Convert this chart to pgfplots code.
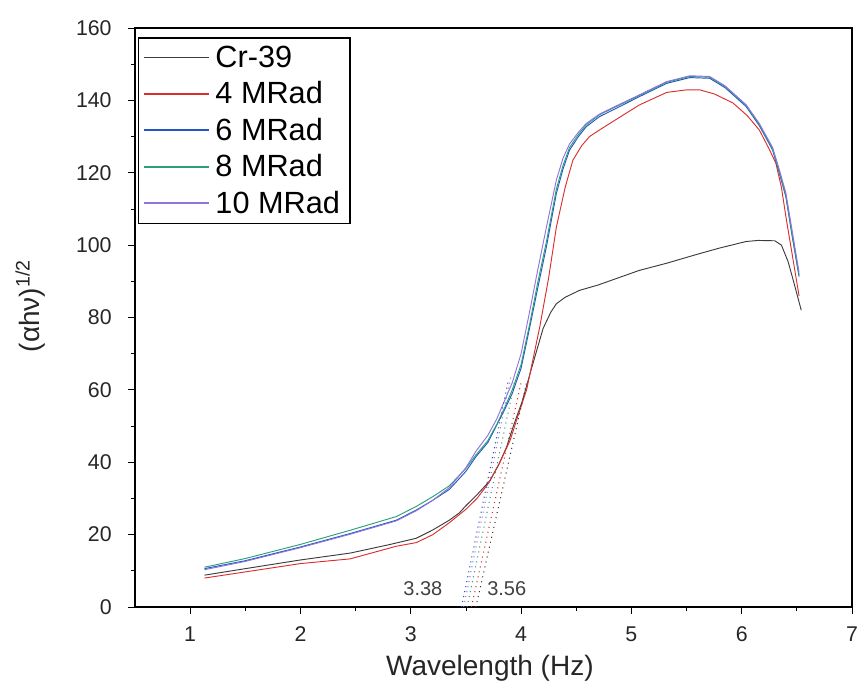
\documentclass[border=0pt]{standalone}
\usepackage{fontspec}
\setmainfont{Liberation Sans}
\usepackage{pgfplots}
\pgfplotsset{compat=1.18}
\usetikzlibrary{calc}

\definecolor{crgray}{RGB}{60,60,60}
\definecolor{mred}{RGB}{220,45,45}
\definecolor{mblue}{RGB}{35,85,195}
\definecolor{mgreen}{RGB}{40,160,120}
\definecolor{mpurple}{RGB}{145,115,220}

\begin{document}
\begin{tikzpicture}
\begin{axis}[
  scale only axis, width=537.75pt, height=434.25pt,
  xmin=0.5, xmax=7, ymin=0, ymax=160,
  xtick={1,...,7}, ytick={0,20,...,160},
  minor x tick num=1, minor y tick num=1,
  tick pos=left, tick align=outside,
  major tick length=5pt, minor tick length=3pt,
  tick style={black, line width=0.6pt},
  axis line style={line width=0.8pt},
  ticklabel style={font=\fontsize{16}{19}\selectfont, text=black!85},
  xticklabel style={yshift=-6pt},
  yticklabel style={xshift=-9pt},
  /pgf/number format/assume math mode=true,
  xlabel={Wavelength (Hz)},
  ylabel={(αhν)\textsuperscript{1/2}},
  label style={font=\fontsize{21}{25}\selectfont, text=black!85},
  xlabel style={at={(axis description cs:0.495,-0.105)}, anchor=center},
  ylabel style={at={(axis description cs:-0.146,0.52)}, anchor=center},
  legend style={at={(axis description cs:0.004,0.984)}, anchor=north west,
    draw=black, line width=1pt, font=\fontsize{23}{26}\selectfont,
    row sep=9.2pt, inner xsep=3.5pt, inner ysep=6pt,
    nodes={inner xsep=4pt, inner ysep=0pt}},
  legend image code/.code={\draw[#1, line width=1.2pt] (0pt,0pt) -- (49pt,0pt);},
  legend cell align=left,
  every axis plot/.append style={line width=0.7pt},
]
% Cr-39
\addplot[draw=crgray] coordinates {
(1.13,8.8) (1.5,10.6) (2.0,13.0) (2.45,14.9) (2.8,17.2) (3.05,19.0) (3.2,21.3)
(3.35,24.0) (3.44,26.0) (3.5,28.0) (3.6,31.0) (3.72,35.0) (3.8,39.5) (3.87,44.3)
(3.93,50.0) (4.01,56.8) (4.1,66.5) (4.2,77.0) (4.27,81.5) (4.32,83.8) (4.4,85.6)
(4.53,87.5) (4.7,89.0) (5.07,93.0) (5.32,95.0) (5.6,97.5) (5.8,99.2) (6.04,101.0)
(6.15,101.3) (6.3,101.2) (6.36,100.0) (6.42,95.5) (6.47,90.0) (6.54,82.0)
};
\addlegendentry{Cr-39}
% 4 MRad
\addplot[draw=mred] coordinates {
(1.13,8.0) (1.5,9.7) (2.0,12.0) (2.45,13.3) (2.87,16.8) (3.05,17.8) (3.2,20.0)
(3.35,23.3) (3.5,27.0) (3.6,30.0) (3.7,34.0) (3.8,39.5) (3.9,46.0) (3.96,51.7)
(4.05,60.0) (4.17,77.5) (4.25,91.0) (4.32,105.0) (4.4,116.0) (4.47,123.5)
(4.55,127.5) (4.62,130.0) (4.71,131.8) (4.85,134.5) (5.07,138.7) (5.32,142.2)
(5.5,142.9) (5.62,142.9) (5.75,141.8) (5.92,139.3) (6.05,135.8) (6.16,131.8)
(6.25,126.5) (6.31,122.6) (6.36,116.0) (6.40,108.0) (6.46,97.0) (6.52,86.0)
};
\addlegendentry{4 MRad}
% 6 MRad
\addplot[draw=mblue] coordinates {
(1.13,10.6) (1.5,12.8) (2.0,16.6) (2.45,20.3) (2.87,24.0) (3.05,26.8) (3.2,29.5)
(3.35,32.5) (3.5,37.5) (3.59,41.5) (3.7,45.5) (3.78,50.3) (3.85,54.5) (3.92,59.0)
(4.0,66.0) (4.08,77.5) (4.15,88.0) (4.23,99.6) (4.32,114.3) (4.38,121.0)
(4.44,126.3) (4.52,130.0) (4.59,132.7) (4.71,135.5) (4.83,137.3) (5.07,141.0)
(5.32,144.7) (5.53,146.3) (5.71,146.1) (5.85,143.5) (6.04,138.3) (6.16,133.0)
(6.28,126.3) (6.34,120.0) (6.40,113.4) (6.46,102.0) (6.52,91.3)
};
\addlegendentry{6 MRad}
% 8 MRad
\addplot[draw=mgreen] coordinates {
(1.13,11.0) (1.5,13.4) (2.0,17.3) (2.45,21.2) (2.87,25.0) (3.05,27.8) (3.2,30.5)
(3.35,33.5) (3.5,38.3) (3.59,42.0) (3.7,46.0) (3.78,50.5) (3.85,55.0) (3.92,60.0)
(4.0,67.0) (4.08,78.5) (4.15,89.5) (4.23,101.0) (4.32,115.5) (4.38,122.0)
(4.44,127.0) (4.52,130.6) (4.59,133.2) (4.71,136.0) (4.83,137.8) (5.07,141.3)
(5.32,145.0) (5.53,146.6) (5.71,146.4) (5.85,143.8) (6.04,138.6) (6.16,133.3)
(6.28,126.6) (6.34,120.3) (6.40,113.8) (6.46,102.5) (6.52,91.8)
};
\addlegendentry{8 MRad}
% 10 MRad
\addplot[draw=mpurple] coordinates {
(1.13,10.3) (1.5,12.6) (2.0,16.4) (2.45,20.1) (2.87,23.8) (3.05,26.6) (3.2,29.5)
(3.35,33.0) (3.5,38.5) (3.59,43.0) (3.7,47.5) (3.78,52.0) (3.85,57.0) (3.92,62.0)
(4.0,70.0) (4.08,82.0) (4.15,93.0) (4.23,105.0) (4.32,118.0) (4.38,124.0)
(4.44,128.0) (4.52,131.2) (4.59,133.6) (4.71,136.2) (4.83,138.0) (5.07,141.5)
(5.32,145.2) (5.53,146.8) (5.71,146.6) (5.85,144.0) (6.04,138.8) (6.16,133.6)
(6.28,127.0) (6.34,121.0) (6.40,114.5) (6.46,103.5) (6.52,92.5)
};
\addlegendentry{10 MRad}
% tangent lines
\addplot[draw=mblue, line width=0.8pt, dash pattern=on 0.8pt off 3pt, forget plot] coordinates {(3.46,0) (3.88,62)};
\addplot[draw=mpurple, line width=0.8pt, dash pattern=on 0.8pt off 3pt, forget plot] coordinates {(3.48,0) (3.91,64)};
\addplot[draw=mgreen, line width=0.8pt, dash pattern=on 0.8pt off 3pt, forget plot] coordinates {(3.51,0) (3.94,62)};
\addplot[draw=mred, line width=0.8pt, dash pattern=on 0.8pt off 3pt, forget plot] coordinates {(3.55,0) (4.0,62)};
\addplot[draw=crgray, line width=0.8pt, dash pattern=on 0.8pt off 3pt, forget plot] coordinates {(3.59,0) (4.05,62)};
\node[font=\fontsize{15}{17}\selectfont, text=black!75] at (axis cs:3.11,5.0) {3.38};
\node[font=\fontsize{15}{17}\selectfont, text=black!75] at (axis cs:3.87,5.0) {3.56};
\end{axis}
\pgfresetboundingbox
\path[use as bounding box] ($(current axis.south west)+(-101.25pt,-67.5pt)$) rectangle ($(current axis.north east)+(4.5pt,21pt)$);
\end{tikzpicture}
\end{document}
